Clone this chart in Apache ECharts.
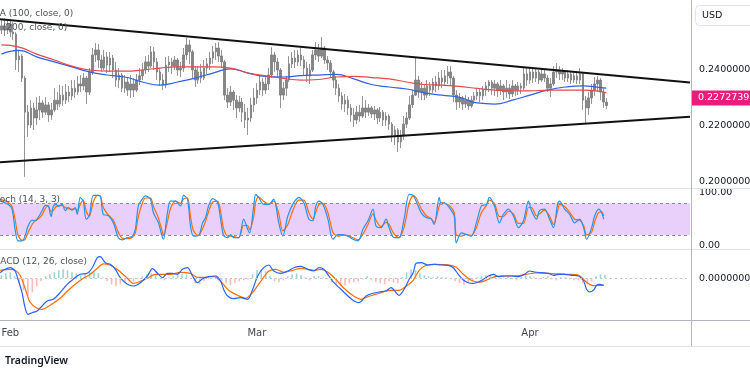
<!DOCTYPE html>
<html><head><meta charset="utf-8">
<script src="https://cdn.jsdelivr.net/npm/echarts@6/dist/echarts.min.js"></script>
<style>html,body{margin:0;padding:0;background:#fff}#c{width:750px;height:375px}</style>
</head><body><div id="c"></div>
<script>
// ---------- DATA ----------
// 8-hour candles starting Jan 31 00:00; day values are days since Jan 31 00:00
const SLOT_COUNT = 235;            // number of 8h slots spanning the visible time range
const SLOT_START = Date.UTC(2023, 0, 31);
const X_MIN_DAY = -1 / 6, X_MAX_DAY = 234.5 / 3;

const candleOpen = [0.2543,0.2558,0.2543,0.2565,0.2536,0.2529,0.2436,0.2450,0.2371,0.2249,
0.2203,0.2264,0.2228,0.2257,0.2282,0.2249,0.2275,0.2239,0.2257,0.2292,
0.2278,0.2310,0.2292,0.2321,0.2307,0.2335,0.2321,0.2350,0.2343,0.2371,
0.2321,0.2393,0.2454,0.2472,0.2436,0.2407,0.2447,0.2418,0.2443,0.2400,
0.2364,0.2382,0.2335,0.2357,0.2328,0.2350,0.2328,0.2364,0.2379,0.2400,
0.2429,0.2414,0.2465,0.2429,0.2393,0.2364,0.2346,0.2418,0.2429,0.2414,
0.2436,0.2400,0.2407,0.2454,0.2490,0.2465,0.2400,0.2364,0.2393,0.2371,
0.2407,0.2422,0.2443,0.2465,0.2479,0.2450,0.2429,0.2310,0.2285,0.2321,
0.2292,0.2264,0.2285,0.2249,0.2221,0.2228,0.2275,0.2300,0.2328,0.2357,
0.2328,0.2350,0.2382,0.2454,0.2429,0.2400,0.2310,0.2335,0.2364,0.2422,
0.2443,0.2429,0.2454,0.2436,0.2407,0.2379,0.2400,0.2454,0.2472,0.2450,
0.2479,0.2436,0.2425,0.2393,0.2364,0.2335,0.2307,0.2278,0.2292,0.2264,
0.2239,0.2221,0.2249,0.2235,0.2264,0.2249,0.2264,0.2242,0.2257,0.2228,
0.2249,0.2221,0.2235,0.2206,0.2167,0.2185,0.2142,0.2167,0.2206,0.2228,
0.2275,0.2310,0.2364,0.2321,0.2335,0.2310,0.2343,0.2328,0.2357,0.2343,
0.2371,0.2357,0.2379,0.2393,0.2371,0.2310,0.2285,0.2300,0.2278,0.2292,
0.2271,0.2292,0.2307,0.2321,0.2307,0.2328,0.2343,0.2357,0.2335,0.2350,
0.2328,0.2343,0.2321,0.2335,0.2314,0.2343,0.2328,0.2343,0.2335,0.2386,
0.2364,0.2393,0.2371,0.2393,0.2364,0.2386,0.2371,0.2335,0.2350,0.2393,
0.2400,0.2386,0.2393,0.2371,0.2386,0.2364,0.2379,0.2364,0.2386,0.2292,
0.2264,0.2300,0.2328,0.2350,0.2364,0.2321,0.2285];

const candleClose = [0.2558,0.2543,0.2565,0.2536,0.2529,0.2436,0.2450,0.2371,0.2249,0.2203,
0.2264,0.2228,0.2257,0.2282,0.2249,0.2275,0.2239,0.2257,0.2292,0.2278,
0.2310,0.2292,0.2321,0.2307,0.2335,0.2321,0.2350,0.2343,0.2371,0.2321,
0.2393,0.2454,0.2472,0.2436,0.2407,0.2447,0.2418,0.2443,0.2400,0.2364,
0.2382,0.2335,0.2357,0.2328,0.2350,0.2328,0.2364,0.2379,0.2400,0.2429,
0.2414,0.2465,0.2429,0.2393,0.2364,0.2346,0.2418,0.2429,0.2414,0.2436,
0.2400,0.2407,0.2454,0.2490,0.2465,0.2400,0.2364,0.2393,0.2371,0.2407,
0.2422,0.2443,0.2465,0.2479,0.2450,0.2429,0.2310,0.2285,0.2321,0.2292,
0.2264,0.2285,0.2249,0.2221,0.2228,0.2275,0.2300,0.2328,0.2357,0.2328,
0.2350,0.2382,0.2454,0.2429,0.2400,0.2310,0.2335,0.2364,0.2422,0.2443,
0.2429,0.2454,0.2436,0.2407,0.2379,0.2400,0.2454,0.2472,0.2450,0.2479,
0.2436,0.2425,0.2393,0.2364,0.2335,0.2307,0.2278,0.2292,0.2264,0.2239,
0.2221,0.2249,0.2235,0.2264,0.2249,0.2264,0.2242,0.2257,0.2228,0.2249,
0.2221,0.2235,0.2206,0.2167,0.2185,0.2142,0.2167,0.2206,0.2228,0.2275,
0.2310,0.2364,0.2321,0.2335,0.2310,0.2343,0.2328,0.2357,0.2343,0.2371,
0.2357,0.2379,0.2393,0.2371,0.2310,0.2285,0.2300,0.2278,0.2292,0.2271,
0.2292,0.2307,0.2321,0.2307,0.2328,0.2343,0.2357,0.2335,0.2350,0.2328,
0.2343,0.2321,0.2335,0.2314,0.2343,0.2328,0.2343,0.2335,0.2386,0.2364,
0.2393,0.2371,0.2393,0.2364,0.2386,0.2371,0.2335,0.2350,0.2393,0.2400,
0.2386,0.2393,0.2371,0.2386,0.2364,0.2379,0.2364,0.2386,0.2292,0.2264,
0.2300,0.2328,0.2350,0.2364,0.2321,0.2285,0.2272739];

const candleHigh = [0.2579,0.2586,0.2583,0.2579,0.2572,0.2536,0.2472,0.2457,0.2379,0.2275,
0.2292,0.2282,0.2303,0.2307,0.2292,0.2303,0.2285,0.2282,0.2335,0.2321,
0.2346,0.2343,0.2350,0.2343,0.2364,0.2364,0.2379,0.2382,0.2389,0.2379,
0.2407,0.2479,0.2497,0.2493,0.2454,0.2472,0.2465,0.2465,0.2454,0.2429,
0.2407,0.2389,0.2382,0.2375,0.2382,0.2371,0.2386,0.2407,0.2425,0.2450,
0.2454,0.2486,0.2482,0.2443,0.2407,0.2386,0.2447,0.2450,0.2443,0.2450,
0.2443,0.2429,0.2479,0.2515,0.2508,0.2472,0.2414,0.2414,0.2422,0.2436,
0.2443,0.2465,0.2486,0.2497,0.2500,0.2472,0.2436,0.2335,0.2343,0.2328,
0.2310,0.2307,0.2300,0.2278,0.2264,0.2300,0.2335,0.2353,0.2379,0.2371,
0.2375,0.2407,0.2482,0.2465,0.2443,0.2407,0.2357,0.2379,0.2450,0.2465,
0.2472,0.2472,0.2479,0.2450,0.2429,0.2422,0.2472,0.2500,0.2493,0.2518,
0.2486,0.2450,0.2436,0.2400,0.2379,0.2350,0.2321,0.2314,0.2307,0.2278,
0.2264,0.2271,0.2275,0.2307,0.2292,0.2278,0.2271,0.2271,0.2264,0.2267,
0.2257,0.2249,0.2242,0.2214,0.2199,0.2192,0.2185,0.2235,0.2249,0.2307,
0.2328,0.2443,0.2379,0.2357,0.2350,0.2364,0.2357,0.2371,0.2379,0.2393,
0.2400,0.2400,0.2414,0.2414,0.2379,0.2328,0.2318,0.2307,0.2310,0.2303,
0.2307,0.2321,0.2335,0.2335,0.2343,0.2357,0.2364,0.2364,0.2364,0.2357,
0.2364,0.2350,0.2364,0.2350,0.2364,0.2350,0.2357,0.2353,0.2411,0.2411,
0.2407,0.2404,0.2407,0.2400,0.2407,0.2400,0.2382,0.2371,0.2414,0.2425,
0.2414,0.2407,0.2400,0.2400,0.2393,0.2396,0.2393,0.2407,0.2393,0.2307,
0.2321,0.2350,0.2375,0.2379,0.2371,0.2335,0.2300];

const candleLow = [0.2529,0.2522,0.2529,0.2518,0.2508,0.2400,0.2393,0.2357,0.2017,0.2160,
0.2192,0.2185,0.2203,0.2221,0.2228,0.2239,0.2214,0.2221,0.2249,0.2257,
0.2267,0.2271,0.2278,0.2285,0.2292,0.2300,0.2310,0.2321,0.2328,0.2278,
0.2310,0.2382,0.2429,0.2407,0.2393,0.2400,0.2389,0.2393,0.2371,0.2339,
0.2335,0.2321,0.2318,0.2307,0.2300,0.2303,0.2321,0.2346,0.2364,0.2386,
0.2393,0.2407,0.2400,0.2364,0.2343,0.2328,0.2335,0.2393,0.2386,0.2400,
0.2379,0.2375,0.2393,0.2436,0.2422,0.2371,0.2339,0.2350,0.2353,0.2364,
0.2386,0.2400,0.2422,0.2436,0.2429,0.2407,0.2292,0.2264,0.2271,0.2257,
0.2228,0.2249,0.2214,0.2192,0.2167,0.2214,0.2249,0.2278,0.2310,0.2307,
0.2314,0.2328,0.2371,0.2393,0.2375,0.2264,0.2292,0.2307,0.2357,0.2407,
0.2407,0.2414,0.2414,0.2379,0.2357,0.2350,0.2393,0.2436,0.2429,0.2443,
0.2422,0.2400,0.2371,0.2335,0.2310,0.2285,0.2257,0.2249,0.2239,0.2214,
0.2196,0.2206,0.2214,0.2228,0.2228,0.2235,0.2228,0.2221,0.2206,0.2214,
0.2199,0.2199,0.2185,0.2142,0.2131,0.2106,0.2120,0.2149,0.2192,0.2221,
0.2264,0.2307,0.2300,0.2292,0.2292,0.2300,0.2307,0.2318,0.2321,0.2328,
0.2335,0.2343,0.2350,0.2343,0.2285,0.2257,0.2264,0.2257,0.2264,0.2257,
0.2264,0.2278,0.2292,0.2285,0.2292,0.2307,0.2321,0.2310,0.2307,0.2303,
0.2310,0.2292,0.2300,0.2296,0.2303,0.2307,0.2310,0.2314,0.2328,0.2343,
0.2350,0.2353,0.2357,0.2350,0.2357,0.2357,0.2321,0.2303,0.2343,0.2371,
0.2364,0.2364,0.2357,0.2357,0.2350,0.2353,0.2350,0.2350,0.2257,0.2210,
0.2239,0.2278,0.2307,0.2321,0.2292,0.2264,0.2260];

const lastPrice = 0.2272739;

// Moving averages (sampled every 2 days)
const maDays = [0,2,4,6,8,10,12,14,16,18,20,22,24,26,28,30,32,34,36,38,40,42,44,46,48,50,52,54,56,58,60,62,64,66,68,68.67];
const ma100 = [0.2457,0.2470,0.2447,0.2429,0.2411,0.2393,0.2382,0.2375,0.2357,0.2346,0.2357,0.2371,0.2389,0.2404,0.2389,0.2377,0.2375,0.2380,0.2382,0.2384,0.2368,0.2348,0.2339,0.2332,0.2318,0.2310,0.2302,0.2282,0.2278,0.2292,0.2310,0.2328,0.2339,0.2343,0.2337,0.2335];
const ma200 = [0.2490,0.2482,0.2457,0.2436,0.2414,0.2400,0.2396,0.2396,0.2400,0.2407,0.2411,0.2411,0.2411,0.2407,0.2389,0.2379,0.2370,0.2364,0.2366,0.2375,0.2377,0.2373,0.2368,0.2357,0.2348,0.2346,0.2341,0.2334,0.2328,0.2325,0.2325,0.2328,0.2328,0.2328,0.2323,0.2318];

// Triangle trend lines (value at left and right edge of the plot)
const trendDays = [X_MIN_DAY, X_MAX_DAY];
const upperTrend = [0.25817, 0.23548];
const lowerTrend = [0.20692, 0.22324];

// Stochastic (14,3,3)
const stochDays = [-0.15,0.74,1.2,1.54,1.88,2.34,2.68,3.02,3.48,3.82,4.16,4.61,4.96,5.3,5.64,5.87,6.21,6.44,6.89,7.23,7.57,8.03,8.37,8.6,8.94,9.28,9.62,9.97,10.42,10.88,11.22,11.56,12.13,12.7,13.27,13.72,14.29,14.86,15.2,15.54,15.99,16.34,16.91,17.25,17.82,18.28,18.39,18.84,19.19,19.76,20.32,20.67,21.12,21.46,21.8,22.37,22.83,23.17,23.51,23.97,24.54,24.88,25.22,25.68,26.02,26.36,26.93,27.5,27.95,28.18,28.64,28.86,29.2,29.77,30.34,30.91,31.48,31.94,32.51,33.07,33.76,34.33,34.9,35.35,35.69,36.04,36.49,37.06,37.63,38.2,38.77,39.34,39.91,40.48,41.04,41.61,42.18,42.52,43.09,43.66,44.0,44.57,45.14,45.71,46.28,46.74,47.08,47.65,48.22,48.79,49.13,49.7,49.92,50.27,50.83,51.4,51.63,52.2,52.77,53.34,53.91,54.48,55.05,55.39,55.96,56.53,56.98,57.55,58.12,58.69,59.26,59.83,60.17,60.74,61.08,61.65,62.22,62.67,63.13,63.36,63.93,64.5,65.07,65.63,66.09,66.43,67.0,67.34,67.8,68.14,68.37];
const stochK = [84,78,69,31,9,9,18,37,48,47,
53,66,76,75,55,74,78,74,78,66,
72,67,72,59,91,84,50,56,95,95,
94,59,57,43,15,11,15,18,31,75,
88,94,88,62,43,15,12,62,84,84,
75,95,88,37,18,19,43,53,75,89,
81,50,19,15,21,15,15,50,31,24,
75,97,91,78,78,88,43,18,56,78,
91,81,50,47,75,84,78,50,12,21,
21,18,12,9,31,47,69,37,34,50,
34,15,15,50,97,95,84,62,53,50,
40,91,78,81,72,56,5,24,21,18,
43,75,78,91,75,43,59,69,56,34,
47,84,66,50,66,69,50,34,78,84,
69,59,43,50,34,12,34,56,69,62,
50];
const stochD = [88,82,74,50,20,10,12,25,40,47,
50,58,70,75,64,66,74,75,76,72,
70,69,70,65,78,86,65,56,82,95,
94,72,58,48,25,14,13,16,24,55,
80,90,90,74,52,25,20,45,70,84,
80,88,90,55,28,19,32,46,64,82,
84,64,32,18,18,17,15,38,38,30,
55,82,92,84,78,84,60,28,40,66,
86,86,62,50,64,78,80,62,25,18,
20,19,15,11,22,40,60,48,36,44,
40,22,15,35,80,94,90,70,57,51,
44,75,82,80,76,62,20,18,21,19,
34,62,76,86,80,55,55,65,60,42,
42,72,72,56,60,67,56,40,65,78,
74,63,50,48,38,20,26,45,63,64,
56];
const stochBands = [20, 80];

// MACD (12,26,close)
const macdDays = [-0.15,0.40,0.97,1.54,1.88,2.34,2.68,3.02,3.48,4.05,4.61,5.18,5.87,6.66,7.46,8.14,8.94,9.74,10.31,10.88,11.22,11.79,12.36,12.93,13.49,14.29,14.97,15.77,16.57,17.14,17.71,18.28,18.84,19.41,19.98,20.55,21.12,21.69,22.26,22.83,23.51,24.31,24.88,25.22,25.68,26.36,27.16,27.95,28.52,29.09,29.77,30.34,30.91,31.71,32.51,33.19,33.99,34.78,35.47,36.04,36.60,37.17,37.74,38.54,39.34,40.02,40.59,41.39,42.18,42.87,43.66,44.23,44.80,45.14,45.71,46.28,46.74,47.08,47.65,48.44,49.13,49.92,50.72,51.29,51.86,52.43,53.00,53.57,54.14,54.71,55.28,55.84,56.41,57.10,57.89,58.69,59.37,59.94,60.51,61.31,62.11,62.67,63.24,63.93,64.72,65.52,66.09,66.43,66.77,67.23,67.57,67.91,68.37];
const macdLine = [0.00056,0.00090,0.00106,0.00073,-0.00010,-0.00144,-0.00294,-0.00360,-0.00344,-0.00327,
-0.00277,-0.00227,-0.00210,-0.00144,-0.00060,-0.00010,0.00040,0.00050,0.00106,0.00206,
0.00216,0.00156,0.00140,0.00090,0.00006,-0.00060,-0.00077,-0.00044,0.00023,0.00096,
0.00050,0.00006,0.00050,0.00050,0.00040,0.00090,0.00106,0.00023,-0.00044,-0.00004,
0.00016,0.00023,-0.00027,-0.00110,-0.00177,-0.00204,-0.00194,-0.00210,-0.00110,0.00023,
0.00106,0.00133,0.00073,0.00050,0.00073,0.00106,0.00120,0.00090,0.00073,0.00106,
0.00090,0.00023,-0.00044,-0.00110,-0.00177,-0.00227,-0.00244,-0.00177,-0.00150,-0.00137,
-0.00127,-0.00094,-0.00144,-0.00170,-0.00110,-0.00010,0.00056,0.00150,0.00156,0.00133,
0.00140,0.00133,0.00130,0.00106,0.00040,-0.00017,-0.00044,-0.00050,-0.00037,-0.00010,
0.00023,0.00040,0.00016,0.00023,0.00023,0.00016,0.00040,0.00073,0.00063,0.00056,
0.00050,0.00030,0.00040,0.00040,0.00030,0.00023,-0.00027,-0.00110,-0.00137,-0.00117,
-0.00070,-0.00060,-0.00070];
const signalDays = [-0.15,0.97,1.54,2.11,2.68,3.25,4.05,4.61,5.53,6.66,7.46,8.37,9.28,10.08,10.88,11.56,12.36,13.27,14.29,14.97,15.77,16.57,17.48,18.28,19.19,20.32,21.46,22.26,23.17,24.08,24.88,25.79,26.81,27.72,28.52,29.43,30.34,31.14,32.05,33.07,33.99,34.78,35.47,36.26,37.06,37.97,38.88,40.02,40.82,41.73,42.87,44.00,45.14,45.94,46.74,47.42,48.22,49.13,50.72,51.63,52.43,53.34,54.25,55.28,56.19,57.32,58.46,59.60,60.74,61.88,63.02,64.15,65.52,66.43,67.23,67.91,68.37];
const signalLine = [0.00080,0.00090,0.00080,0.00030,-0.00100,-0.00240,-0.00300,-0.00310,-0.00270,-0.00200,
-0.00130,-0.00060,0.00000,0.00040,0.00100,0.00145,0.00130,0.00080,0.00000,-0.00050,
-0.00030,0.00000,0.00040,0.00040,0.00040,0.00060,0.00050,0.00010,0.00010,0.00020,
-0.00030,-0.00120,-0.00170,-0.00200,-0.00140,-0.00030,0.00070,0.00090,0.00060,0.00080,
0.00100,0.00090,0.00080,0.00090,0.00060,-0.00010,-0.00100,-0.00180,-0.00210,-0.00180,
-0.00150,-0.00120,-0.00120,-0.00080,-0.00020,0.00080,0.00130,0.00140,0.00135,0.00110,
0.00040,-0.00020,-0.00040,-0.00010,0.00020,0.00025,0.00025,0.00040,0.00055,0.00050,
0.00045,0.00040,0.00030,-0.00040,-0.00074,-0.00070,-0.00070];
const HIST_START_DAY = 0, HIST_STEP_DAYS = 0.5;
const macdHist = [0.0003,0.0005,0.0006,0.0002,-0.0005,-0.0012,-0.0018,-0.0014,-0.0008,-0.0003,
0.0002,0.0004,0.0006,0.0008,0.0009,0.0008,0.0006,0.0005,0.0003,0.0004,
0.0006,0.0007,0.0005,0.0001,-0.0003,-0.0006,-0.0008,-0.0006,-0.0004,-0.0003,
-0.0003,-0.0001,0.0002,0.0004,0.0005,0.0003,0.0000,-0.0002,0.0001,0.0002,
0.0003,0.0004,0.0004,0.0000,-0.0005,-0.0006,-0.0003,-0.0001,0.0001,0.0002,
-0.0002,-0.0005,-0.0007,-0.0005,-0.0003,-0.0002,-0.0001,0.0004,0.0008,0.0009,
0.0007,0.0002,-0.0003,-0.0004,-0.0002,0.0002,0.0004,0.0005,0.0003,0.0001,
-0.0002,0.0002,0.0002,0.0001,-0.0001,-0.0004,-0.0006,-0.0008,-0.0007,-0.0005,
-0.0004,-0.0003,-0.0001,0.0002,-0.0002,-0.0004,-0.0005,-0.0006,-0.0003,-0.0004,
-0.0005,0.0001,0.0006,0.0009,0.0008,0.0005,0.0003,0.0002,0.0001,0.0002,
0.0001,0.0001,-0.0001,-0.0003,-0.0005,-0.0007,-0.0005,-0.0003,0.0001,0.0002,
0.0003,0.0004,0.0002,-0.0001,0.0001,0.0002,-0.0001,-0.0002,0.0001,0.0003,
0.0002,0.0001,-0.0001,0.0001,0.0002,-0.0001,-0.0002,0.0001,0.0001,-0.0001,
-0.0002,-0.0002,-0.0005,-0.0006,-0.0003,0.0002,0.0004,0.0003];

// Axis tick labels
const priceTicks = [0.20, 0.22, 0.24];
const stochTicks = [0, 100];
const macdTicks = [0];
const monthDays = [1, 29, 60];
const monthNames = ['Feb', 'Mar', 'Apr'];

// ---------- BUILD ----------
const F = 'DejaVu Sans';
const slotLabels = Array.from({length: SLOT_COUNT}, (_, i) =>
  new Date(SLOT_START + i * 8 * 3600e3).toISOString().slice(0, 13));
const candles = candleOpen.map((o, i) => [o, candleClose[i], candleLow[i], candleHigh[i]]);
const zip = (xs, ys) => xs.map((x, i) => [x, ys[i]]);
const histData = macdHist.map((v, i) => [HIST_START_DAY + i * HIST_STEP_DAYS, v]);

const chart = echarts.init(document.getElementById('c'), null, {renderer: 'canvas'});
const W = 690;
const hidden = {show: false};
const gridBase = {left: 0, width: W, containLabel: false, outerBoundsMode: 'none'};

const option = {
  animation: false,
  backgroundColor: '#ffffff',
  grid: [
    Object.assign({top: 0, height: 188}, gridBase),
    Object.assign({top: 188, height: 61}, gridBase),
    Object.assign({top: 249, height: 71}, gridBase)
  ],
  xAxis: [
    {type: 'category', gridIndex: 0, data: slotLabels, boundaryGap: true, show: false},
    {type: 'value', gridIndex: 0, min: X_MIN_DAY, max: X_MAX_DAY, show: false},
    {type: 'value', gridIndex: 1, min: X_MIN_DAY, max: X_MAX_DAY, show: false},
    {type: 'value', gridIndex: 2, min: X_MIN_DAY, max: X_MAX_DAY,
      axisLine: hidden, axisTick: hidden, splitLine: hidden,
      axisLabel: {customValues: monthDays, margin: 8, color: '#434651', fontSize: 10, fontFamily: F,
        formatter: v => monthNames[monthDays.indexOf(Math.round(v))] || ''}}
  ],
  yAxis: [
    {type: 'value', gridIndex: 0, position: 'right', min: 0.19771, max: 0.26509,
      axisLine: hidden, axisTick: hidden, splitLine: hidden,
      axisLabel: {customValues: priceTicks, formatter: v => v.toFixed(7), margin: 9, color: '#131722', fontSize: 9.5, fontFamily: F}},
    {type: 'value', gridIndex: 1, position: 'right', min: -6.4, max: 108.9,
      axisLine: hidden, axisTick: hidden, splitLine: hidden,
      axisLabel: {customValues: stochTicks, formatter: v => v.toFixed(2), margin: 9, color: '#131722', fontSize: 9.5, fontFamily: F}},
    {type: 'value', gridIndex: 2, position: 'right', min: -0.00417, max: 0.00293,
      axisLine: hidden, axisTick: hidden, splitLine: hidden,
      axisLabel: {customValues: macdTicks, formatter: v => Math.abs(v).toFixed(7), margin: 9, color: '#131722', fontSize: 9.5, fontFamily: F}}
  ],
  series: [
    {type: 'candlestick', xAxisIndex: 0, yAxisIndex: 0, data: candles, barWidth: 2,
      itemStyle: {color: '#858585', color0: '#858585', borderColor: '#7a7a7a', borderColor0: '#7a7a7a', borderWidth: 0.8},
      markLine: {symbol: ['none', 'none'], silent: true, animation: false,
        lineStyle: {color: 'transparent', width: 0},
        label: {show: true, position: 'end', distance: 1, formatter: () => lastPrice.toFixed(7),
          backgroundColor: '#ec1c7c', color: '#ffffff', fontSize: 9.5, fontFamily: F, padding: [3, 10, 2, 7]},
        data: [{yAxis: lastPrice}]}},
    {type: 'line', name: 'MA100', xAxisIndex: 1, yAxisIndex: 0, data: zip(maDays, ma100), smooth: 0.5,
      showSymbol: false, lineStyle: {color: '#2f62e0', width: 1.2}, z: 3},
    {type: 'line', name: 'MA200', xAxisIndex: 1, yAxisIndex: 0, data: zip(maDays, ma200), smooth: 0.5,
      showSymbol: false, lineStyle: {color: '#e5484d', width: 1.2}, z: 3},
    {type: 'line', xAxisIndex: 1, yAxisIndex: 0, data: zip(trendDays, upperTrend), showSymbol: false,
      lineStyle: {color: '#111111', width: 2}, z: 4},
    {type: 'line', xAxisIndex: 1, yAxisIndex: 0, data: zip(trendDays, lowerTrend), showSymbol: false,
      lineStyle: {color: '#111111', width: 2}, z: 4},
    {type: 'line', name: '%D', xAxisIndex: 2, yAxisIndex: 1, data: zip(stochDays, stochD), smooth: 0.3,
      showSymbol: false, lineStyle: {color: '#ff6d00', width: 1.2}, z: 3,
      markArea: {silent: true, itemStyle: {color: '#e9d0fb'}, data: [[{yAxis: stochBands[0]}, {yAxis: stochBands[1]}]]},
      markLine: {symbol: ['none', 'none'], silent: true, label: {show: false},
        lineStyle: {color: '#8a8d96', type: [3, 3], width: 1},
        data: stochBands.map(b => ({yAxis: b}))}},
    {type: 'line', name: '%K', xAxisIndex: 2, yAxisIndex: 1, data: zip(stochDays, stochK), smooth: 0.3,
      showSymbol: false, lineStyle: {color: '#2196f3', width: 1.2}, z: 4},
    {type: 'bar', xAxisIndex: 3, yAxisIndex: 2, data: histData, barWidth: 1.6,
      itemStyle: {color: p => p.value[1] >= 0 ? 'rgba(38,166,154,0.45)' : 'rgba(255,82,82,0.4)'},
      markLine: {symbol: ['none', 'none'], silent: true, label: {show: false},
        lineStyle: {color: '#c4c6cc', type: [2, 3], width: 1}, data: [{yAxis: 0}]}},
    {type: 'line', name: 'MACD', xAxisIndex: 3, yAxisIndex: 2, data: zip(macdDays, macdLine), smooth: 0.3,
      showSymbol: false, lineStyle: {color: '#2962ff', width: 1.2}, z: 4},
    {type: 'line', name: 'Signal', xAxisIndex: 3, yAxisIndex: 2, data: zip(signalDays, signalLine), smooth: 0.3,
      showSymbol: false, lineStyle: {color: '#ff6d00', width: 1.2}, z: 3}
  ],
  graphic: [
    {type: 'line', shape: {x1: 0, y1: 188.5, x2: 750, y2: 188.5}, style: {stroke: '#e0e3eb', lineWidth: 1}, z: 50},
    {type: 'line', shape: {x1: 0, y1: 249.5, x2: 750, y2: 249.5}, style: {stroke: '#e0e3eb', lineWidth: 1}, z: 50},
    {type: 'line', shape: {x1: 0, y1: 320.5, x2: 750, y2: 320.5}, style: {stroke: '#b2b5be', lineWidth: 1}, z: 50},
    {type: 'line', shape: {x1: 0, y1: 346.5, x2: 750, y2: 346.5}, style: {stroke: '#e0e3eb', lineWidth: 1}, z: 50},
    {type: 'line', shape: {x1: 691.5, y1: 0, x2: 691.5, y2: 346}, style: {stroke: '#b2b5be', lineWidth: 1}, z: 50},
    {type: 'rect', shape: {x: 695.5, y: 5.5, width: 62, height: 20, r: 4}, style: {fill: '#ffffff', stroke: '#e0e3eb', lineWidth: 1}, z: 50},
    {type: 'text', x: 702, y: 15.5, style: {text: 'USD', fill: '#131722', font: '9.5px "DejaVu Sans"', textVerticalAlign: 'middle'}, z: 51},
    {type: 'text', x: -8, y: 14, style: {text: 'MA (100, close, 0)', fill: '#4c525e', font: '9px "DejaVu Sans"', textVerticalAlign: 'middle'}, z: 51},
    {type: 'text', x: -14, y: 28, style: {text: 'MA (200, close, 0)', fill: '#4c525e', font: '9px "DejaVu Sans"', textVerticalAlign: 'middle'}, z: 51},
    {type: 'text', x: -9.5, y: 200, style: {text: 'Stoch (14, 3, 3)', fill: '#4c525e', font: '9px "DejaVu Sans"', textVerticalAlign: 'middle'}, z: 51},
    {type: 'text', x: -7.5, y: 262, style: {text: 'MACD (12, 26, close)', fill: '#4c525e', font: '9px "DejaVu Sans"', textVerticalAlign: 'middle'}, z: 51},
    {type: 'text', x: 5, y: 361, style: {text: 'TradingView', fill: '#131722', font: '600 10.5px "Noto Sans"', textVerticalAlign: 'middle'}, z: 51}
  ]
};
chart.setOption(option);
</script></body></html>
